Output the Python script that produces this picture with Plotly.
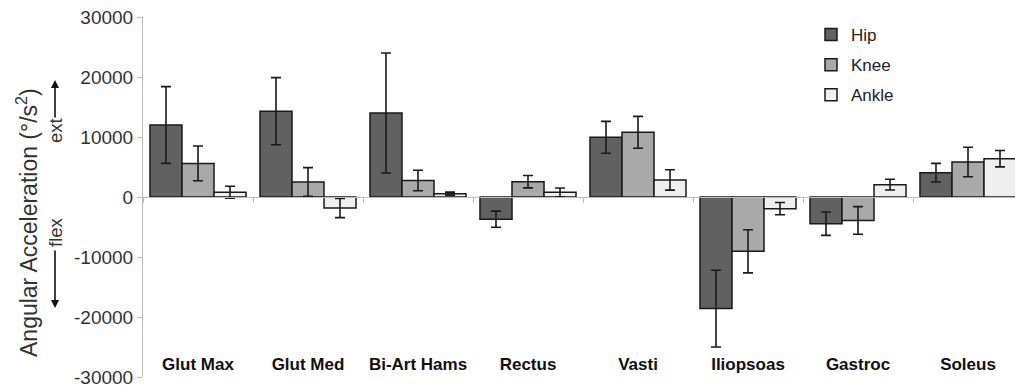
import plotly.graph_objects as go

categories = ["Glut Max", "Glut Med", "Bi-Art Hams", "Rectus", "Vasti", "Iliopsoas", "Gastroc", "Soleus"]
series_names = ["Hip", "Knee", "Ankle"]
hip = [12000, 14300, 14000, -3700, 9950, -18600, -4450, 4050]
hip_err = [6400, 5600, 10000, 1350, 2650, 6400, 1950, 1550]
knee = [5600, 2500, 2750, 2550, 10780, -9050, -3900, 5830]
knee_err = [2900, 2400, 1700, 1030, 2650, 3600, 2300, 2450]
ankle = [780, -1830, 560, 780, 2840, -1940, 2060, 6390]
ankle_err = [1000, 1600, 250, 730, 1700, 1030, 900, 1370]
colors = ["#616161", "#a9a9a9", "#efefef"]
y_ticks = [-30000, -20000, -10000, 0, 10000, 20000, 30000]

FONT = "Liberation Sans, Arial, sans-serif"
W, H = 1015, 391
L, T, R = 143, 17, 0
B = H - T - 360
pw, ph = W - L - R, H - T - B

def px_x(x):
    return (x - L) / pw

def px_y(y):
    return (H - B - y) / ph

fig = go.Figure()
for name, vals, errs, col in zip(series_names, [hip, knee, ankle], [hip_err, knee_err, ankle_err], colors):
    fig.add_trace(go.Bar(
        name=name, x=categories, y=vals, legendgroup=name,
        marker=dict(color=col, line=dict(color="#1a1a1a", width=1.5)),
        error_y=dict(type="data", array=errs, visible=True, color="#1a1a1a", thickness=1.6, width=5),
    ))

fig.update_layout(
    width=W, height=H, barmode="group", bargap=0.127, bargroupgap=0,
    plot_bgcolor="white", paper_bgcolor="white",
    margin=dict(l=L, r=R, t=T, b=B, autoexpand=False),
    font=dict(family=FONT, color="#222"),
    legend=dict(x=px_x(811), y=px_y(17), xanchor="left", yanchor="top",
                font=dict(size=17, color="#222"), tracegroupgap=5, bgcolor="rgba(0,0,0,0)"),
    xaxis=dict(type="category", categoryorder="array", categoryarray=categories,
               range=[-0.5, -0.5 + pw / 110.0], anchor="free", position=0.5,
               showline=True, linecolor="#bdbdbd", linewidth=1,
               ticks="outside", tickson="boundaries", ticklen=5, tickcolor="#bdbdbd",
               showgrid=False, zeroline=False, automargin=False,
               tickfont=dict(size=17, family=FONT, color="#111", weight="bold"),
               ticklabelstandoff=152, ticklabeloverflow="allow"),
    yaxis=dict(range=[-30000, 30000], tickvals=y_ticks, ticktext=[str(v) for v in y_ticks],
               showline=True, linecolor="#bdbdbd", linewidth=1,
               ticks="outside", ticklen=5, tickcolor="#bdbdbd",
               showgrid=False, zeroline=False, automargin=False,
               ticklabeloverflow="allow",
               tickfont=dict(size=19, family=FONT, color="#333")),
)

ann = []
ann.append(dict(text="Angular Acceleration (°/s<sup>2</sup>)", xref="paper", yref="paper",
                x=px_x(27), y=px_y(223), showarrow=False, textangle=-90,
                font=dict(size=23, family=FONT, color="#333"), xanchor="center", yanchor="middle"))
ann.append(dict(text="ext", xref="paper", yref="paper", x=px_x(55), y=px_y(131), showarrow=False,
                textangle=-90, xanchor="center", yanchor="middle",
                font=dict(size=18.5, family=FONT, color="#333")))
ann.append(dict(text="flex", xref="paper", yref="paper", x=px_x(55), y=px_y(232), showarrow=False,
                textangle=-90, xanchor="center", yanchor="middle",
                font=dict(size=18.5, family=FONT, color="#333")))
ann.append(dict(text="", xref="paper", yref="paper", x=px_x(55), y=px_y(80), ax=0, ay=39,
                showarrow=True, arrowhead=2, arrowsize=1, arrowwidth=1.6, arrowcolor="#111"))
ann.append(dict(text="", xref="paper", yref="paper", x=px_x(55), y=px_y(308), ax=0, ay=-59,
                showarrow=True, arrowhead=2, arrowsize=1, arrowwidth=1.6, arrowcolor="#111"))
fig.update_layout(annotations=ann)

fig.write_html("out.html", config={"displayModeBar": False},
               post_script="document.body.style.margin='0px';")
